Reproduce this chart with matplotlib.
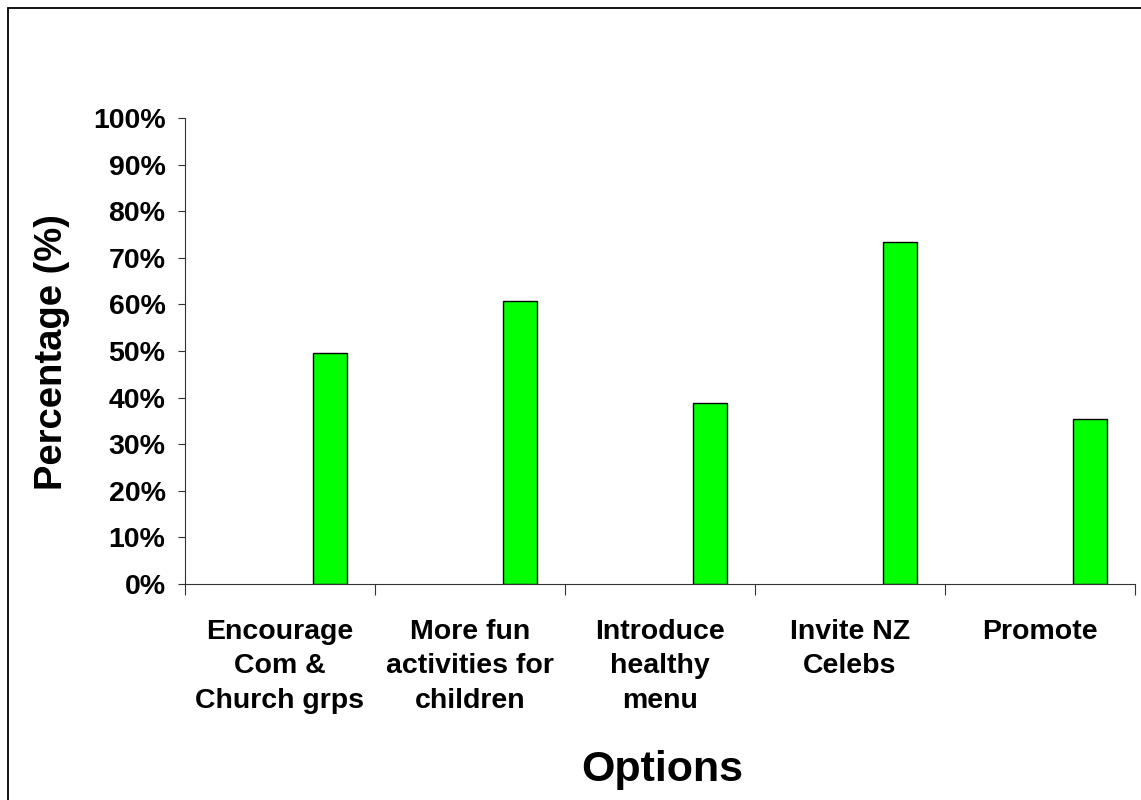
import matplotlib.pyplot as plt
from matplotlib.patches import Rectangle
from matplotlib.ticker import FuncFormatter
import numpy as np

plt.rcParams['font.family'] = ['Liberation Sans', 'DejaVu Sans']
plt.rcParams['font.weight'] = 'bold'

categories = ['Encourage\nCom &\nChurch grps', 'More fun\nactivities for\nchildren',
              'Introduce\nhealthy\nmenu', 'Invite NZ\nCelebs', 'Promote']
percent = [49.6, 60.8, 38.9, 73.3, 35.4]

fig = plt.figure(figsize=(11.41, 8), dpi=100)
ax = fig.add_axes([0.1621, 0.27, 0.8326, 0.5825])

x = np.arange(len(categories))
ax.bar(x + 0.265, percent, width=0.18, color='#00ff00', edgecolor='black', linewidth=1.0)

ax.set_xlim(-0.5, len(categories) - 0.5)
ax.set_ylim(0, 100)
ax.set_yticks(np.arange(0, 101, 10))
ax.yaxis.set_major_formatter(FuncFormatter(lambda v, p: f'{v:.0f}%'))

# category ticks sit between groups, labels centred under each group
ax.set_xticks(np.arange(-0.5, len(categories), 1.0))
ax.set_xticklabels([])
ax.set_xticks(x, minor=True)
ax.set_xticklabels(categories, minor=True, fontsize=20.5, fontweight='bold', linespacing=1.43, va='top')
ax.tick_params(axis='x', which='minor', length=0, pad=25)
ax.tick_params(axis='x', which='major', length=8, direction='out', color='#333333')
ax.tick_params(axis='y', length=5, direction='out', pad=9, labelsize=20.5, color='#333333')
for lab in ax.get_yticklabels():
    lab.set_fontweight('bold')

for side in ['top', 'right']:
    ax.spines[side].set_visible(False)
for side in ['left', 'bottom']:
    ax.spines[side].set_color('#333333')

fig.text(0.046, 0.56, 'Percentage (%)', rotation=90, ha='center', va='center',
         fontsize=27.5, fontweight='bold')
fig.text(0.58, 0.037, 'Options', ha='center', va='center', fontsize=31, fontweight='bold')

# outer frame
fig.patches.append(Rectangle((8 / 1141, -0.1), 1.2, 1.1 - 8 / 800, transform=fig.transFigure,
                             fill=False, edgecolor='black', linewidth=1.3))

fig.savefig('out.png', dpi=100)
